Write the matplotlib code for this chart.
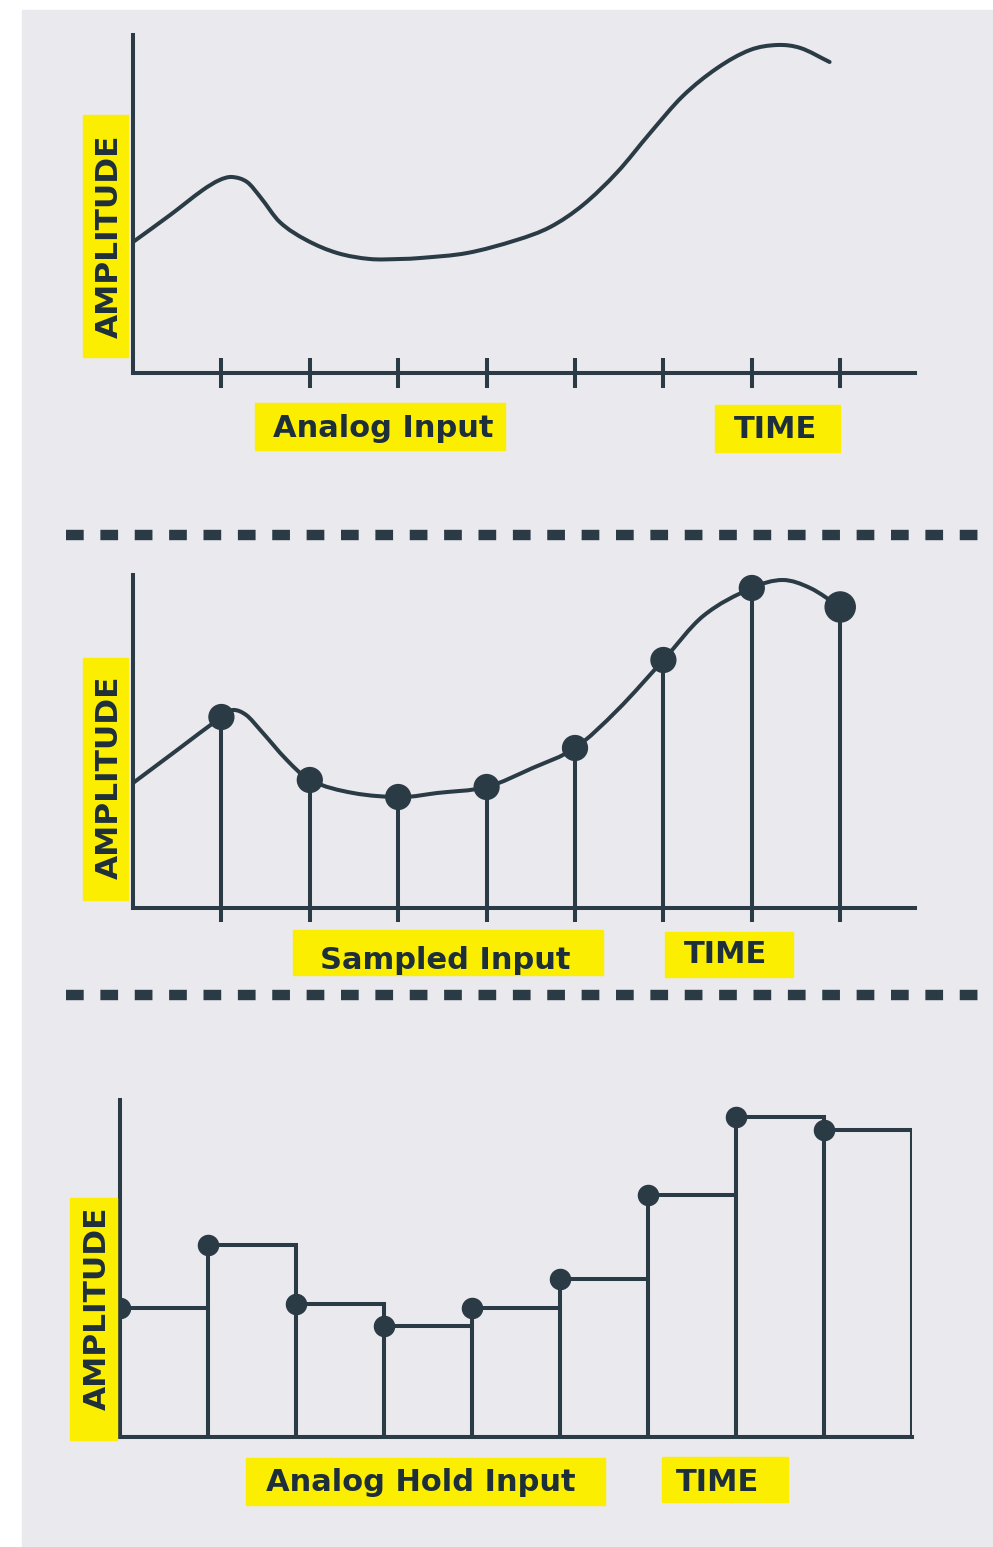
import numpy as np
import matplotlib
matplotlib.use("Agg")
import matplotlib.pyplot as plt
from matplotlib.patches import Rectangle, PathPatch
from matplotlib.path import Path
from matplotlib.lines import Line2D
from matplotlib.transforms import Affine2D

# ---- data (time in sample periods, amplitude in arbitrary units) ----
analog_t = [0.0, 0.42, 0.79, 0.98, 1.12, 1.29, 1.44, 1.66, 1.96, 2.31, 2.68, 3.02, 3.25,
            3.78, 4.34, 4.72, 5.09, 5.48, 5.85, 6.22, 6.61, 6.98, 7.29, 7.55, 7.88]
analog_amp = [1.31, 1.58, 1.83, 1.93, 1.96, 1.91, 1.76, 1.51, 1.33, 1.20, 1.14, 1.14, 1.15,
              1.20, 1.33, 1.46, 1.68, 2.01, 2.40, 2.77, 3.05, 3.23, 3.28, 3.25, 3.11]
tick_t = [1, 2, 3, 4, 5, 6, 7, 8]

curve2_t = [0.0, 0.5, 1.0, 1.13, 1.28, 1.44, 1.74, 2.0, 2.49, 3.05, 3.44, 4.0, 4.52,
            5.0, 5.48, 6.0, 6.45, 7.0, 7.35, 7.66, 8.0]
curve2_amp = [1.25, 1.58, 1.91, 1.98, 1.93, 1.78, 1.48, 1.28, 1.15, 1.11, 1.15, 1.21, 1.40,
              1.60, 1.98, 2.48, 2.92, 3.20, 3.28, 3.20, 3.01]
sample_t = [1, 2, 3, 4, 5, 6, 7, 8]
sample_amp = [1.91, 1.28, 1.11, 1.21, 1.60, 2.48, 3.20, 3.01]

hold_t = [0, 1, 2, 3, 4, 5, 6, 7, 8]
hold_amp = [1.29, 1.92, 1.33, 1.11, 1.29, 1.58, 2.42, 3.20, 3.07]

W, H = 993, 1547
INK = "#2b3b46"
TXT = "#1e2f3c"
YEL = "#fcee00"
LW = 2.9

fig = plt.figure(figsize=(W / 100, H / 100), dpi=100)
fig.patch.set_facecolor("white")
px = Affine2D().scale(1 / W, -1 / H).translate(0, 1) + fig.transFigure

# grey card behind everything
fig.add_artist(Rectangle((22, 10), W - 22, H - 10, transform=px, color="#eaeaee", zorder=0))


def panel(x0, y_top, x1, y_bot, px_per_t=88.4, px_per_a=100.0):
    ax = fig.add_axes([x0 / W, 1 - y_bot / H, (x1 - x0) / W, (y_bot - y_top) / H])
    ax.set_facecolor("none")
    ax.set_xlim(0, (x1 - x0) / px_per_t)
    ax.set_ylim(0, (y_bot - y_top) / px_per_a)
    for s in ["top", "right"]:
        ax.spines[s].set_visible(False)
    for s in ["left", "bottom"]:
        ax.spines[s].set_color(INK)
        ax.spines[s].set_linewidth(LW)
        ax.spines[s].set_capstyle("projecting")
    ax.set_yticks([])
    ax.set_xticks([])
    return ax


def smooth_line(ax, t, a):
    # smooth bezier through the read points (hermite handles along t)
    t = np.asarray(t, float)
    a = np.asarray(a, float)
    n = len(t)
    m = np.empty(n)
    m[0] = (a[1] - a[0]) / (t[1] - t[0])
    m[-1] = (a[-1] - a[-2]) / (t[-1] - t[-2])
    m[1:-1] = (a[2:] - a[:-2]) / (t[2:] - t[:-2])
    verts = [(t[0], a[0])]
    codes = [Path.MOVETO]
    for i in range(n - 1):
        h = t[i + 1] - t[i]
        verts += [(t[i] + h / 3, a[i] + m[i] * h / 3),
                  (t[i + 1] - h / 3, a[i + 1] - m[i + 1] * h / 3),
                  (t[i + 1], a[i + 1])]
        codes += [Path.CURVE4] * 3
    patch = PathPatch(Path(verts, codes), fill=False, edgecolor=INK, lw=LW,
                      capstyle="round", joinstyle="round", clip_on=False)
    ax.add_patch(patch)


def label(x0, y0, x1, y1, text, tx, ty, rot=0, size=22):
    fig.add_artist(Rectangle((x0, y0), x1 - x0, y1 - y0, transform=px, color=YEL, zorder=1))
    fig.text(tx, ty, text, transform=px, rotation=rot, rotation_mode="anchor",
             ha="center", va="baseline", fontsize=size, fontweight="bold",
             color=TXT, family="DejaVu Sans", zorder=2)


def separator(y):
    fig.add_artist(Line2D([66, W + 5], [y, y], transform=px, color=INK, lw=7.5,
                          linestyle=(0, (1.7, 1.6)), solid_capstyle="butt",
                          dash_capstyle="butt"))


# ---- panel 1: analog input ----
ax1 = panel(133, 35, 915, 373)
smooth_line(ax1, analog_t, analog_amp)
ax1.set_xticks(tick_t)
ax1.set_xticklabels([])
ax1.tick_params(axis="x", direction="inout", length=21.6, width=LW, color=INK)
label(83, 115, 128, 357, "AMPLITUDE", 118, 236, rot=90, size=22.5)
label(255, 403, 505, 450, "Analog Input", 383, 437)
label(715, 405, 840, 452, "TIME", 775, 438)

separator(535)

# ---- panel 2: sampled input ----
ax2 = panel(133, 575, 915, 908)
smooth_line(ax2, curve2_t, curve2_amp)
ax2.vlines(sample_t, 0, sample_amp, color=INK, lw=LW)
ax2.scatter(sample_t, sample_amp, s=[320] * 7 + [470], color=INK, zorder=3, clip_on=False)
ax2.set_xticks(sample_t)
ax2.set_xticklabels([])
ax2.tick_params(axis="x", direction="out", length=10, width=LW, color=INK)
label(83, 658, 128, 900, "AMPLITUDE", 118, 777, rot=90, size=22.5)
label(293, 930, 603, 975, "Sampled Input", 445, 969)
label(665, 932, 793, 977, "TIME", 726, 963)

separator(995)

# ---- panel 3: analog hold input ----
ax3 = panel(120, 1100, 912, 1437, px_per_t=88.0)
ax3.bar(hold_t, hold_amp, width=1, align="edge", fill=False, edgecolor=INK, lw=LW)
ax3.scatter(hold_t, hold_amp, s=210, color=INK, zorder=3, clip_on=False)
label(70, 1198, 117, 1440, "AMPLITUDE", 106, 1308, rot=90, size=22.5)
label(246, 1458, 605, 1505, "Analog Hold Input", 421, 1491)
label(662, 1457, 788, 1502, "TIME", 718, 1491)

fig.savefig("out.png", dpi=100, facecolor=fig.get_facecolor())
